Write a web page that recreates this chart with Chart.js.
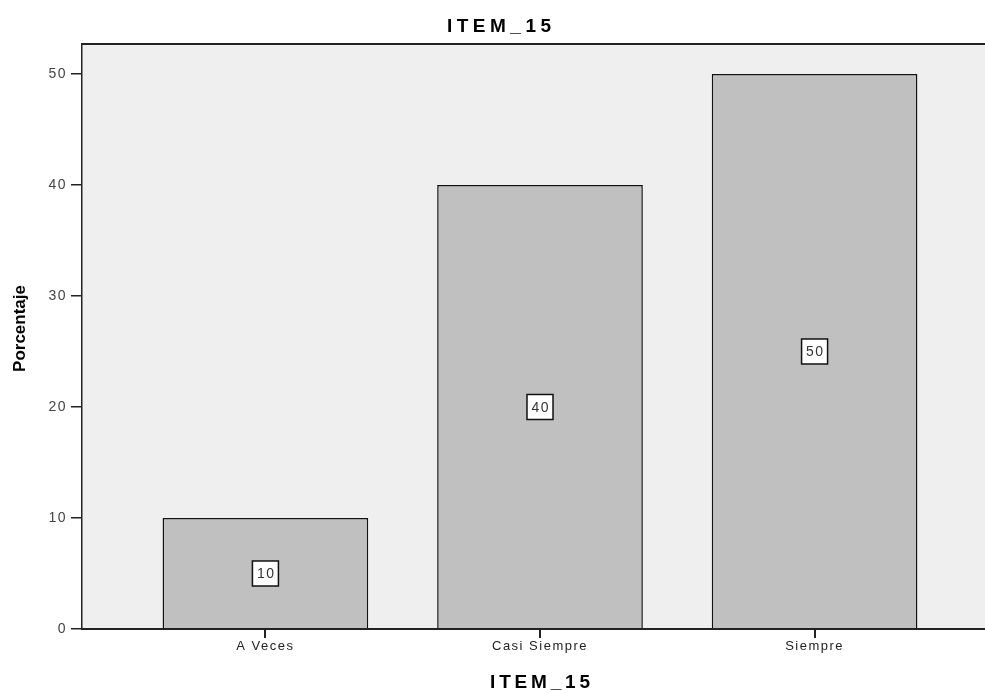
<!DOCTYPE html>
<html>
<head>
<meta charset="utf-8">
<script src="https://cdn.jsdelivr.net/npm/chart.js@4/dist/chart.umd.min.js"></script>
<style>
  html, body { margin: 0; padding: 0; background: #ffffff; overflow: hidden; }
  #c { display: block; }
</style>
</head>
<body>
<canvas id="c" width="998" height="693"></canvas>
<script>
// Response categories and the percentage for each
const categories = ['A Veces', 'Casi Siempre', 'Siempre'];
const percentages = [10, 40, 50];
const yTickValues = [0, 10, 20, 30, 40, 50];
const chartTitle = 'ITEM_15';
const xAxisTitle = 'ITEM_15';
const yAxisTitle = 'Porcentaje';

const FONT = '"Liberation Sans", Arial, Helvetica, sans-serif';

// Draws spaced-out text centred on (x, y)
function spacedText(ctx, text, x, y, font, spacing, angle) {
  ctx.save();
  ctx.translate(x, y);
  if (angle) ctx.rotate(angle);
  ctx.font = font;
  ctx.letterSpacing = spacing + 'px';
  ctx.fillStyle = '#000000';
  ctx.textAlign = 'center';
  ctx.textBaseline = 'alphabetic';
  ctx.fillText(text, spacing / 2, 0);
  ctx.restore();
}

// Panel background, top frame line and the three titles
const panelPlugin = {
  id: 'panel',
  beforeDraw(chart) {
    const { ctx, chartArea: a } = chart;
    ctx.save();
    ctx.fillStyle = '#efefef';
    ctx.fillRect(a.left, a.top, a.right - a.left, a.bottom - a.top);
    ctx.strokeStyle = '#222222';
    ctx.lineWidth = 2;
    ctx.beginPath();
    ctx.moveTo(a.left - 1, a.top);
    ctx.lineTo(a.right, a.top);
    ctx.stroke();
    ctx.restore();
    ctx.letterSpacing = '1.5px';
  },
  afterDraw(chart) {
    const { ctx, chartArea: a } = chart;
    ctx.letterSpacing = '0px';
    const midX = (a.left + a.right) / 2;
    spacedText(ctx, chartTitle, chart.width / 2, 32, 'bold 19px ' + FONT, 4.5, 0);
    spacedText(ctx, xAxisTitle, midX, 688, 'bold 19px ' + FONT, 3.8, 0);
    spacedText(ctx, yAxisTitle, 25, (a.top + a.bottom) / 2 - 8, 'bold 17px ' + FONT, 0, -Math.PI / 2);
  }
};

// Boxed value label in the middle of every bar
const valueBoxPlugin = {
  id: 'valueBoxes',
  afterDatasetsDraw(chart) {
    const { ctx } = chart;
    const yScale = chart.scales.y;
    const meta = chart.getDatasetMeta(0);
    ctx.save();
    ctx.font = '14px ' + FONT;
    ctx.textAlign = 'center';
    ctx.textBaseline = 'middle';
    meta.data.forEach((bar, i) => {
      const v = percentages[i];
      const cx = bar.x;
      const cy = yScale.getPixelForValue(v / 2);
      const w = 26, h = 25;
      ctx.fillStyle = '#ffffff';
      ctx.fillRect(cx - w / 2, cy - h / 2, w, h);
      ctx.strokeStyle = '#111111';
      ctx.lineWidth = 1.5;
      ctx.strokeRect(cx - w / 2, cy - h / 2, w, h);
      ctx.fillStyle = '#333333';
      ctx.fillText(String(v), cx + 0.75, cy + 1);
    });
    ctx.restore();
  }
};

new Chart(document.getElementById('c'), {
  type: 'bar',
  data: {
    datasets: [{
      data: percentages.map((v, i) => ({ x: i, y: v })),
      backgroundColor: '#c0c0c0',
      borderColor: '#111111',
      borderWidth: 1.5,
      borderSkipped: 'start',
      categoryPercentage: 1,
      barPercentage: 0.749
    }]
  },
  options: {
    responsive: false,
    animation: false,
    devicePixelRatio: 1,
    layout: { padding: { left: 0, right: 0, top: 44, bottom: 0 } },
    plugins: {
      legend: { display: false },
      tooltip: { enabled: false },
      title: { display: false }
    },
    scales: {
      x: {
        type: 'linear',
        offset: false,
        min: -0.668,
        max: 2.668,
        afterBuildTicks: s => { s.ticks = categories.map((_, i) => ({ value: i })); },
        afterFit: s => { s.height = 64; },
        ticks: {
          callback: v => categories[v],
          color: '#222222',
          font: { family: FONT, size: 13 },
          padding: 1,
          autoSkip: false,
          maxRotation: 0,
          z: 1
        },
        grid: { offset: false, drawOnChartArea: false, drawTicks: true, tickLength: 9, color: '#222222', lineWidth: 2, z: 1 },
        border: { display: true, color: '#222222', width: 2, z: 1 },
        title: { display: false }
      },
      y: {
        min: 0,
        max: 52.7,
        afterBuildTicks: s => { s.ticks = yTickValues.map(v => ({ value: v })); },
        afterFit: s => { s.width = 82; },
        ticks: {
          color: '#444444',
          font: { family: FONT, size: 14 },
          padding: 4,
          z: 1
        },
        grid: { drawOnChartArea: false, drawTicks: true, tickLength: 11, color: '#222222', lineWidth: 1.5, z: 1 },
        border: { display: true, color: '#222222', width: 1.5, z: 1 },
        title: { display: false }
      }
    }
  },
  plugins: [panelPlugin, valueBoxPlugin]
});
</script>
</body>
</html>
